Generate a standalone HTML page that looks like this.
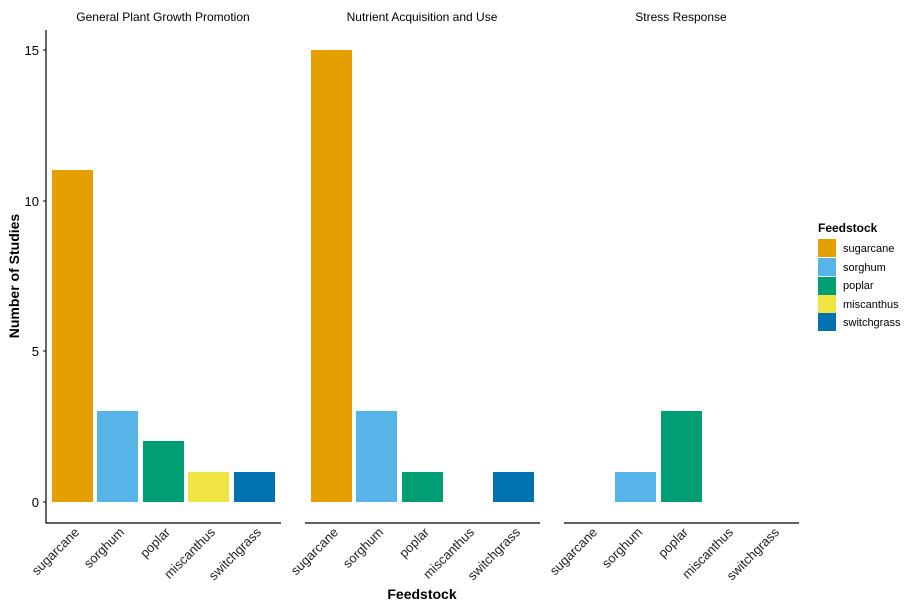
<!DOCTYPE html>
<html><head><style>body{margin:0;background:#fff}svg{display:block;font-family:"Liberation Sans",Arial,sans-serif}</style></head><body>
<svg width="906" height="607" viewBox="0 0 906 607">
<g font-size="12" fill="#000">
<text x="163" y="21" text-anchor="middle">General Plant Growth Promotion</text>
<text x="422" y="21" text-anchor="middle">Nutrient Acquisition and Use</text>
<text x="681" y="21" text-anchor="middle">Stress Response</text>
</g>
<line x1="46" y1="30" x2="46" y2="523.5" stroke="#000" stroke-width="1.2"/>
<line x1="46" y1="523" x2="281" y2="523" stroke="#000" stroke-width="1.2"/>
<line x1="305" y1="523" x2="540" y2="523" stroke="#000" stroke-width="1.2"/>
<line x1="564" y1="523" x2="799" y2="523" stroke="#000" stroke-width="1.2"/>
<g font-size="13" text-anchor="end">
<text x="39" y="507">0</text><text x="39" y="356">5</text><text x="39" y="206">10</text><text x="39" y="55">15</text>
</g>
<g stroke="#000"><line x1="43" y1="502" x2="46" y2="502"/><line x1="43" y1="351" x2="46" y2="351"/><line x1="43" y1="201" x2="46" y2="201"/><line x1="43" y1="50" x2="46" y2="50"/></g>
<rect x="52" y="170" width="41" height="332" fill="#E69F00"/>
<rect x="97" y="411" width="41" height="91" fill="#56B4E9"/>
<rect x="143" y="441" width="41" height="61" fill="#009E73"/>
<rect x="188" y="472" width="41" height="30" fill="#F0E442"/>
<rect x="234" y="472" width="41" height="30" fill="#0072B2"/>
<rect x="311" y="50" width="41" height="452" fill="#E69F00"/>
<rect x="356" y="411" width="41" height="91" fill="#56B4E9"/>
<rect x="402" y="472" width="41" height="30" fill="#009E73"/>
<rect x="493" y="472" width="41" height="30" fill="#0072B2"/>
<rect x="615" y="472" width="41" height="30" fill="#56B4E9"/>
<rect x="661" y="411" width="41" height="91" fill="#009E73"/>
<g font-size="13" text-anchor="end" fill="#222">
<g>
<text transform="translate(80,533) rotate(-45)">sugarcane</text>
<text transform="translate(125,533) rotate(-45)">sorghum</text>
<text transform="translate(171,533) rotate(-45)">poplar</text>
<text transform="translate(216,533) rotate(-45)">miscanthus</text>
<text transform="translate(262,533) rotate(-45)">switchgrass</text>
</g>
<g transform="translate(259,0)">
<text transform="translate(80,533) rotate(-45)">sugarcane</text>
<text transform="translate(125,533) rotate(-45)">sorghum</text>
<text transform="translate(171,533) rotate(-45)">poplar</text>
<text transform="translate(216,533) rotate(-45)">miscanthus</text>
<text transform="translate(262,533) rotate(-45)">switchgrass</text>
</g>
<g transform="translate(518,0)">
<text transform="translate(80,533) rotate(-45)">sugarcane</text>
<text transform="translate(125,533) rotate(-45)">sorghum</text>
<text transform="translate(171,533) rotate(-45)">poplar</text>
<text transform="translate(216,533) rotate(-45)">miscanthus</text>
<text transform="translate(262,533) rotate(-45)">switchgrass</text>
</g>
</g>
<text x="422" y="599" font-size="14" font-weight="bold" text-anchor="middle">Feedstock</text>
<text transform="translate(19,276) rotate(-90)" font-size="14" font-weight="bold" text-anchor="middle">Number of Studies</text>
<text x="818" y="232" font-size="12" font-weight="bold">Feedstock</text>
<rect x="818" y="239" width="18" height="18" fill="#E69F00"/>
<rect x="818" y="258" width="18" height="18" fill="#56B4E9"/>
<rect x="818" y="277" width="18" height="18" fill="#009E73"/>
<rect x="818" y="295" width="18" height="18" fill="#F0E442"/>
<rect x="818" y="313" width="18" height="18" fill="#0072B2"/>
<g font-size="11">
<text x="843" y="252">sugarcane</text>
<text x="843" y="271">sorghum</text>
<text x="843" y="289">poplar</text>
<text x="843" y="308">miscanthus</text>
<text x="843" y="326">switchgrass</text>
</g>
</svg>
</body></html>
